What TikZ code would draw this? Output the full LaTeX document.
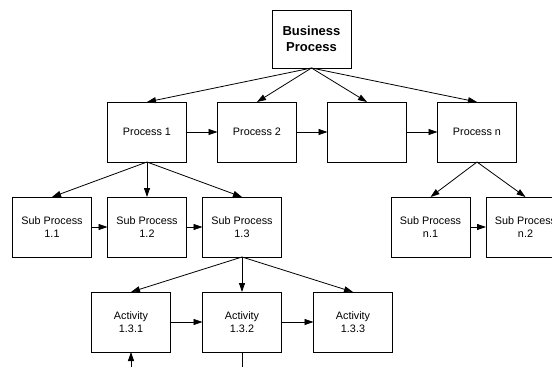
\documentclass[tikz,border=0pt]{standalone}
\usepackage{fontspec}
\setmainfont{Liberation Sans}
\usetikzlibrary{arrows.meta, positioning}
\tikzset{
  procbox/.style={rectangle, draw=black, line width=0.8pt, minimum width=79pt, minimum height=60pt,
    inner sep=1pt, outer sep=0pt, align=center, font=\fontsize{10.8}{12.6}\selectfont},
  topbox/.style={procbox, minimum height=58pt, font=\bfseries\fontsize{13}{15.5}\selectfont},
  link/.style={-{Triangle[length=9pt, width=6pt]}, line width=0.8pt, black},
  plainlink/.style={line width=0.8pt, black},
}

\begin{document}
\begin{tikzpicture}[x=1pt, y=1pt, node distance=31pt]
        \useasboundingbox (0,0) rectangle (552,-367);
        % top level
        \node[topbox] (bp) at (311.5,-39) {Business\\Process};
        % processes
        \node[procbox] (p1) at (147,-132) {Process 1};
        \node[procbox, right=of p1] (p2) {Process 2};
        \node[procbox, right=of p2] (p3) {};
        \node[procbox, right=of p3] (pn) {Process n};
        % sub processes
        \node[procbox] (s11) at (52,-227) {Sub Process\\1.1};
        \node[procbox, right=16pt of s11] (s12) {Sub Process\\1.2};
        \node[procbox, right=16pt of s12] (s13) {Sub Process\\1.3};
        \node[procbox] (sn1) at (430.5,-227) {Sub Process\\n.1};
        \node[procbox, right=16pt of sn1] (sn2) {Sub Process\\n.2};
        % activities
        \node[procbox] (a1) at (131,-322) {Activity\\1.3.1};
        \node[procbox, right=32pt of a1] (a2) {Activity\\1.3.2};
        \node[procbox, right=32pt of a2] (a3) {Activity\\1.3.3};
        \coordinate (actin) at (131,-367);
        \coordinate (actout) at (242,-367);

        \foreach \t in {p1, p2, p3, pn}
          \draw[link] (bp.south) -- (\t.north);
        \foreach \t in {s11, s12, s13}
          \draw[link] (p1.south) -- (\t.north);
        \foreach \t in {sn1, sn2}
          \draw[link] (pn.south) -- (\t.north);
        \foreach \t in {a1, a2, a3}
          \draw[link] (s13.south) -- (\t.north);
        \foreach \a/\b in {p1/p2, p2/p3, p3/pn, s11/s12, s12/s13, sn1/sn2, a1/a2, a2/a3}
          \draw[link] (\a) -- (\b);
        \draw[link] (actin) -- (a1.south);
        \draw[plainlink] (a2.south) -- (actout);
      \end{tikzpicture}
\end{document}
